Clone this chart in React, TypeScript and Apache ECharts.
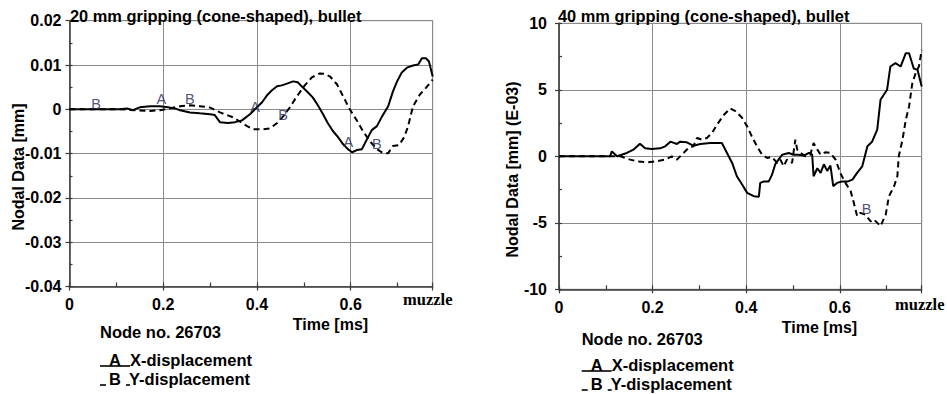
import React, { useEffect, useRef } from "react";
import * as echarts from "echarts";

// ---------- texts ----------
const leftTitle = "20 mm gripping (cone-shaped), bullet";
const rightTitle = "40 mm gripping (cone-shaped), bullet";
const leftYName = "Nodal Data [mm]";
const rightYName = "Nodal Data [mm] (E-03)";
const xName = "Time [ms]";
const endLabel = "muzzle";
const nodeLabel = "Node no. 26703";
const legendAName = "X-displacement";
const legendBName = "Y-displacement";

// ---------- axes ----------
const timeMax = 0.775;
const leftYMin = -0.04;
const leftYMax = 0.02;
const rightYMin = -10;
const rightYMax = 10;

// ---------- left chart (20 mm) : [time ms, displacement mm] ----------
const leftA: number[][] = [
  [0, 0], [0.108, 0], [0.123, 0.0002], [0.135, -0.0002], [0.15, 0.00045], [0.172, 0.0007],
  [0.193, 0.0007], [0.21, 0.00045], [0.225, 0.0002], [0.236, -0.0002], [0.257, -0.0007],
  [0.278, -0.0009], [0.3, -0.0011], [0.31, -0.0013], [0.321, -0.0029], [0.338, -0.0031],
  [0.353, -0.0029], [0.368, -0.0025], [0.385, -0.0011], [0.4, 0.00045], [0.411, 0.0016],
  [0.421, 0.0031], [0.432, 0.0043], [0.443, 0.0052], [0.453, 0.0054], [0.464, 0.0058],
  [0.477, 0.0063], [0.487, 0.0061], [0.498, 0.0049], [0.509, 0.0038], [0.519, 0.0027],
  [0.53, 0.0009], [0.541, -0.0011], [0.551, -0.0031], [0.562, -0.0049], [0.573, -0.0063],
  [0.584, -0.0079], [0.594, -0.009], [0.603, -0.0097], [0.613, -0.0092], [0.624, -0.009],
  [0.635, -0.0067], [0.645, -0.0047], [0.656, -0.0038], [0.667, -0.0016], [0.68, 0.0007],
  [0.69, 0.004], [0.699, 0.0063], [0.709, 0.0083], [0.72, 0.0094], [0.733, 0.0099],
  [0.744, 0.0101], [0.752, 0.0115], [0.761, 0.0115], [0.767, 0.0108], [0.775, 0.0074],
];
const leftB: number[][] = [
  [0, 0], [0.108, 0], [0.14, -0.0002], [0.172, -0.0004], [0.193, -0.0002], [0.214, 0.0002],
  [0.236, 0.0007], [0.257, 0.0009], [0.278, 0.0007], [0.3, 0.0004], [0.321, -0.0007],
  [0.349, -0.0018], [0.379, -0.0038], [0.392, -0.0045], [0.413, -0.0045], [0.428, -0.0043],
  [0.443, -0.0031], [0.456, -0.0016], [0.47, 0.0004], [0.485, 0.0029], [0.502, 0.0054],
  [0.517, 0.0072], [0.534, 0.0081], [0.545, 0.008], [0.556, 0.0074], [0.571, 0.0056],
  [0.584, 0.0029], [0.598, 0], [0.613, -0.0025], [0.626, -0.0049], [0.641, -0.0072],
  [0.656, -0.009], [0.669, -0.0099], [0.68, -0.0099], [0.69, -0.0083], [0.703, -0.0081],
  [0.714, -0.0063], [0.722, -0.004], [0.733, 0.0007], [0.748, 0.0034], [0.761, 0.0049],
  [0.775, 0.0067],
];
const leftMarks: (number | string)[][] = [
  [0.0565, 0.0012, "B"], [0.196, 0.0024, "A"], [0.257, 0.0024, "B"], [0.396, 0.0006, "A"],
  [0.456, -0.0012, "B"], [0.595, -0.0074, "A"], [0.656, -0.0079, "B"],
];

// ---------- right chart (40 mm) : [time ms, displacement E-03 mm] ----------
const rightA: number[][] = [
  [0, 0], [0.109, 0], [0.113, 0.37], [0.124, 0], [0.145, 0.25], [0.159, 0.5], [0.173, 0.95],
  [0.184, 0.6], [0.198, 0.55], [0.216, 0.6], [0.227, 0.75], [0.238, 1.1], [0.252, 0.93],
  [0.259, 1.1], [0.273, 1.05], [0.287, 0.8], [0.302, 0.93], [0.323, 1.0], [0.348, 1.0],
  [0.359, 0.25], [0.37, -0.5], [0.38, -1.5], [0.391, -2.1], [0.402, -2.75], [0.416, -3.0],
  [0.427, -3.05], [0.43, -2.0], [0.437, -1.9], [0.448, -1.9], [0.455, -1.4], [0.462, -0.6],
  [0.469, -0.25], [0.477, 0.12], [0.491, 0.25], [0.501, 0.12], [0.512, 0.12], [0.523, 0.05],
  [0.534, 0.25], [0.541, 0.12], [0.544, -1.5], [0.552, -0.9], [0.559, -1.25], [0.566, -0.6],
  [0.573, -1.1], [0.58, -0.7], [0.586, -2.25], [0.594, -2.0], [0.605, -1.9], [0.616, -1.9],
  [0.627, -1.75], [0.637, -1.25], [0.648, -0.75], [0.659, 0.75], [0.669, 1.1], [0.68, 2.0],
  [0.687, 4.25], [0.701, 5.0], [0.708, 6.75], [0.719, 7.0], [0.73, 6.75], [0.741, 7.75],
  [0.748, 7.75], [0.758, 6.6], [0.766, 6.5], [0.775, 5.25],
];
const rightB: number[][] = [
  [0, 0], [0.109, 0], [0.131, 0], [0.152, -0.25], [0.166, -0.37], [0.188, -0.45],
  [0.209, -0.37], [0.227, -0.25], [0.241, 0], [0.252, -0.25], [0.266, 0.25], [0.277, 0.63],
  [0.287, 0.75], [0.295, 1.38], [0.305, 1.25], [0.316, 1.38], [0.327, 1.75], [0.338, 2.4],
  [0.352, 3.1], [0.366, 3.6], [0.377, 3.4], [0.391, 2.9], [0.402, 2.25], [0.412, 1.5],
  [0.423, 0.75], [0.434, 0.12], [0.445, -0.12], [0.455, -0.05], [0.466, -0.5], [0.473, -0.25],
  [0.48, -0.75], [0.487, -0.25], [0.498, -0.5], [0.505, 1.25], [0.509, 0.5], [0.516, 0.25],
  [0.527, 0], [0.537, 0.12], [0.544, 1.0], [0.552, 0.5], [0.559, 0.12], [0.569, 0.3],
  [0.58, 0.25], [0.591, -0.25], [0.601, -1.25], [0.612, -2.0], [0.623, -2.6], [0.63, -3.5],
  [0.637, -4.5], [0.644, -4.25], [0.655, -4.4], [0.666, -4.9], [0.673, -4.75], [0.687, -5.25],
  [0.698, -4.4], [0.705, -3.0], [0.716, -2.25], [0.723, -1.5], [0.726, 0], [0.734, 1.25],
  [0.741, 2.75], [0.748, 3.75], [0.755, 5.5], [0.762, 6.25], [0.769, 6.75], [0.775, 8.0],
];
const rightMarks: (number | string)[][] = [[0.657, -3.95, "B"]];

// ---------- styles ----------
const SANS = "'Liberation Sans', Arial, sans-serif";
const SERIF = "'Liberation Serif', 'Times New Roman', serif";
const GRID_COLOR = "#8a8a8a";
const AXIS_COLOR = "#3a3a3a";
const MARK_COLOR = "#1e2756";

const near = (v: number, step: number) => Math.abs(v / step - Math.round(v / step)) < 1e-6;

function mainX(gridIndex: number) {
  return {
    type: "value", gridIndex, min: 0, max: timeMax, interval: 0.2, position: "bottom",
    axisLine: { show: true, onZero: false, lineStyle: { color: AXIS_COLOR, width: 1.5 } },
    axisTick: { show: true, inside: false, length: 4, lineStyle: { color: AXIS_COLOR, width: 1.2 } },
    axisLabel: {
      margin: 10, color: "#000", fontFamily: SANS, fontWeight: "bold", fontSize: 16,
      formatter: (v: number) => (near(v, 0.2) ? String(Math.round(v * 10) / 10) : ""),
    },
    splitLine: { show: true, lineStyle: { color: GRID_COLOR, width: 1 } },
  };
}
function minorX(gridIndex: number) {
  return {
    type: "value", gridIndex, min: 0, max: timeMax, interval: 0.1, position: "bottom",
    axisLine: { show: false, onZero: false },
    axisTick: { show: true, inside: true, length: 4, lineStyle: { color: AXIS_COLOR, width: 1.2 } },
    axisLabel: { show: false },
    splitLine: { show: false },
  };
}
function mainY(gridIndex: number, min: number, max: number, step: number, margin: number, dec: number) {
  return {
    type: "value", gridIndex, min, max, interval: step, position: "left",
    axisLine: { show: true, onZero: false, lineStyle: { color: AXIS_COLOR, width: 1.5 } },
    axisTick: { show: true, inside: false, length: 4, lineStyle: { color: AXIS_COLOR, width: 1.2 } },
    axisLabel: {
      margin, color: "#000", fontFamily: SANS, fontWeight: "bold", fontSize: 16,
      formatter: (v: number) => String(Math.round(v * dec) / dec),
    },
    splitLine: { show: true, lineStyle: { color: GRID_COLOR, width: 1 } },
  };
}
function minorY(gridIndex: number, min: number, max: number, step: number) {
  return {
    type: "value", gridIndex, min, max, interval: step, position: "left",
    axisLine: { show: false, onZero: false },
    axisTick: { show: true, inside: true, length: 3, lineStyle: { color: AXIS_COLOR, width: 1.2 } },
    axisLabel: { show: false },
    splitLine: { show: false },
  };
}

function lineSeries(data: number[][], xi: number, yi: number, dashed: boolean) {
  return {
    type: "line", data, xAxisIndex: xi, yAxisIndex: yi, showSymbol: false, symbol: "none",
    smooth: false, clip: true,
    lineStyle: { color: "#000", width: 2, type: dashed ? [6, 4] : "solid" },
    z: 3,
  };
}
function markSeries(data: (number | string)[][], xi: number, yi: number) {
  return {
    type: "scatter", data, xAxisIndex: xi, yAxisIndex: yi, symbolSize: 1,
    itemStyle: { color: "rgba(0,0,0,0)" },
    label: {
      show: true, position: "inside", color: MARK_COLOR, fontFamily: SANS, fontSize: 14.5,
      formatter: (p: any) => p.value[2],
    },
    z: 5,
  };
}

function txt(text: string, x: number, y: number, opts: any = {}) {
  return {
    type: "text", x, y, rotation: opts.rotation || 0,
    style: {
      text, fill: "#000", font: `${opts.weight || "bold"} ${opts.size || 16}px ${opts.family || SANS}`,
      align: opts.align || "left", verticalAlign: "middle",
    },
    z: 10,
  };
}
function seg(x1: number, y1: number, x2: number, y2: number) {
  return { type: "line", shape: { x1, y1, x2, y2 }, style: { stroke: "#000", lineWidth: 1.6 }, z: 10 };
}

function legendBlock(x: number, yNode: number, yA: number, yB: number) {
  return [
    txt(nodeLabel, x, yNode, { size: 16.5 }),
    seg(x, yA + 6, x + 30, yA + 6),
    txt("A", x + 15, yA, { align: "center", size: 16.5 }),
    txt(legendAName, x + 30, yA, { size: 16.5 }),
    seg(x, yB + 6, x + 6, yB + 6),
    txt("B", x + 15, yB, { align: "center", size: 16.5 }),
    seg(x + 26, yB + 6, x + 30, yB + 6),
    txt(legendBName, x + 29, yB, { size: 16.5 }),
  ];
}

export default function App() {
  const ref = useRef<HTMLDivElement>(null);
  useEffect(() => {
    if (!ref.current) return;
    const chart = echarts.init(ref.current, undefined, { renderer: "svg" });
    const option: any = {
      animation: false,
      backgroundColor: "#fff",
      grid: [
        { left: 69.5, top: 20.7, width: 363.2, height: 265.8, show: true, borderColor: GRID_COLOR, borderWidth: 1 },
        { left: 559, top: 23.3, width: 362.7, height: 266, show: true, borderColor: GRID_COLOR, borderWidth: 1 },
      ],
      xAxis: [mainX(0), minorX(0), mainX(1), minorX(1)],
      yAxis: [
        mainY(0, leftYMin, leftYMax, 0.01, 8, 100),
        minorY(0, leftYMin, leftYMax, 0.005),
        mainY(1, rightYMin, rightYMax, 5, 12, 1),
        minorY(1, rightYMin, rightYMax, 2.5),
      ],
      series: [
        lineSeries(leftA, 0, 0, false),
        lineSeries(leftB, 0, 0, true),
        markSeries(leftMarks, 0, 0),
        lineSeries(rightA, 2, 2, false),
        lineSeries(rightB, 2, 2, true),
        markSeries(rightMarks, 2, 2),
      ],
      graphic: [
        txt(leftTitle, 70, 15.5, { size: 16.4 }),
        txt(rightTitle, 558, 16.3, { size: 16.4 }),
        txt(leftYName, 18, 167, { rotation: Math.PI / 2, align: "center" }),
        txt(rightYName, 512.5, 169.5, { rotation: Math.PI / 2, align: "center" }),
        txt(xName, 330.5, 324.5, { align: "center" }),
        txt(xName, 819.5, 327.5, { align: "center" }),
        txt(endLabel, 403, 299.5, { family: SERIF, size: 16.5 }),
        txt(endLabel, 895, 304.5, { family: SERIF, size: 16.5 }),
        ...legendBlock(100, 332, 360, 379),
        ...legendBlock(581.7, 339, 365, 384),
      ],
    };
    chart.setOption(option);
    return () => chart.dispose();
  }, []);
  return (
    <div
      ref={ref}
      style={{ position: "absolute", left: 0, top: 0, width: 947, height: 394, background: "#fff" }}
    />
  );
}
